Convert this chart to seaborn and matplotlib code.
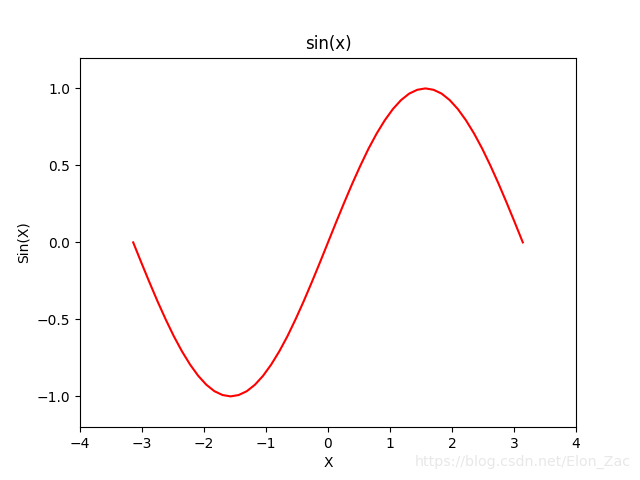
import matplotlib
matplotlib.use("Agg")
import matplotlib.pyplot as plt
import pandas as pd
import seaborn as sns

# sample points (step of pi/24 from -pi to pi)
x_vals = [-3.142, -3.011, -2.880, -2.749, -2.618, -2.487, -2.356, -2.225,
          -2.094, -1.963, -1.833, -1.702, -1.571, -1.440, -1.309, -1.178,
          -1.047, -0.916, -0.785, -0.654, -0.524, -0.393, -0.262, -0.131,
          0.000, 0.131, 0.262, 0.393, 0.524, 0.654, 0.785, 0.916,
          1.047, 1.178, 1.309, 1.440, 1.571, 1.702, 1.833, 1.963,
          2.094, 2.225, 2.356, 2.487, 2.618, 2.749, 2.880, 3.011, 3.142]
y_vals = [0.000, -0.131, -0.259, -0.383, -0.500, -0.609, -0.707, -0.793,
          -0.866, -0.924, -0.966, -0.991, -1.000, -0.991, -0.966, -0.924,
          -0.866, -0.793, -0.707, -0.609, -0.500, -0.383, -0.259, -0.131,
          0.000, 0.131, 0.259, 0.383, 0.500, 0.609, 0.707, 0.793,
          0.866, 0.924, 0.966, 0.991, 1.000, 0.991, 0.966, 0.924,
          0.866, 0.793, 0.707, 0.609, 0.500, 0.383, 0.259, 0.131, 0.000]

df = pd.DataFrame({"x": x_vals, "y": y_vals})

fig, ax = plt.subplots(figsize=(6.4, 4.8), dpi=100)
sns.lineplot(data=df, x="x", y="y", color="red", ax=ax, sort=False)
ax.set_xlim(-4, 4)
ax.set_ylim(-1.2, 1.2)
ax.set_title("sin(x)")
ax.set_xlabel("X")
ax.set_ylabel("Sin(X)")

fig.text(0.986, 0.0375, "https://blog.csdn.net/Elon_Zac", ha="right", va="center",
         fontsize=10.3, color="#e8e8e8")

fig.savefig("out.png", dpi=100)
